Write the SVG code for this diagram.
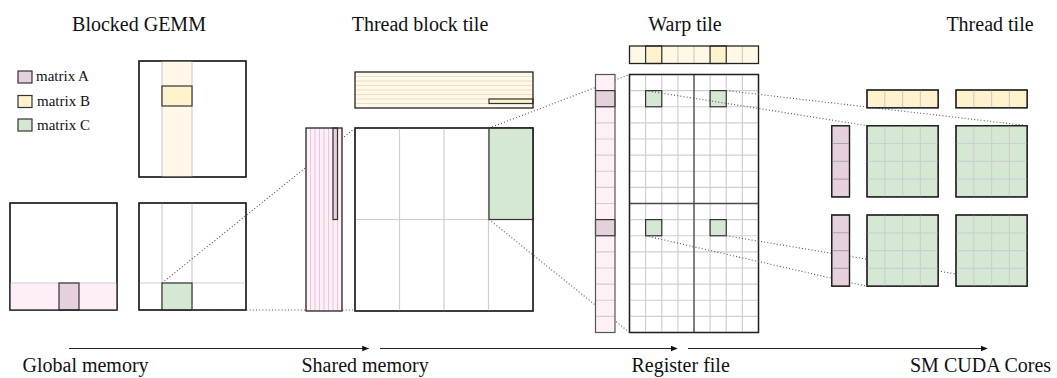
<svg xmlns="http://www.w3.org/2000/svg" width="1057" height="378" viewBox="0 0 1057 378">
  <style>
    .title { font-size: 20px; text-anchor: middle; }
    .label { font-size: 20px; }
    .legend { font-size: 15px; }
    .frame { fill: #fff; stroke: #222; stroke-width: 1.3; }
    .grid { fill: none; stroke: #cfcfcf; stroke-width: 1.2; }
    .gridmid { fill: none; stroke: #4a4a4a; stroke-width: 1.4; }
    .edge { fill: none; stroke: #222; stroke-width: 1.3; }
    .aBand { fill: #fdeef8; }
    .bBand { fill: #fff8e8; }
    .aTile { fill: #e6d0de; stroke: #333; stroke-width: 1.2; }
    .bTile { fill: #fff2cc; stroke: #333; stroke-width: 1.2; }
    .cTile { fill: #d5e8d4; stroke: #333; stroke-width: 1.2; }
    .dot { fill: none; stroke: #555; stroke-width: 1.1; stroke-dasharray: 1 2.2; }
    .flow { fill: none; stroke: #222; stroke-width: 1.1; marker-end: url(#head); }
  </style>
  <defs>
    <marker id="head" viewBox="0 0 10 10" refX="9" refY="5" markerWidth="7" markerHeight="7" markerUnits="userSpaceOnUse" orient="auto">
      <path d="M0,1 L10,5 L0,9 z" fill="#111"/>
    </marker>
  </defs>

  <rect width="1057" height="378" fill="#fff"/>

  <!-- column titles -->
  <g id="titles" font-family="Liberation Serif, DejaVu Serif, serif" fill="#111">
    <text class="title" x="139" y="31">Blocked GEMM</text>
    <text class="title" x="420" y="31">Thread block tile</text>
    <text class="title" x="685" y="31">Warp tile</text>
    <text class="title" x="990" y="31">Thread tile</text>
  </g>

  <!-- legend -->
  <g id="legend" font-family="Liberation Serif, DejaVu Serif, serif" fill="#111">
    <rect class="aTile" x="18" y="71" width="14" height="12"/>
    <text class="legend" x="36" y="81">matrix A</text>
    <rect class="bTile" x="18" y="95.5" width="14" height="12"/>
    <text class="legend" x="37" y="105.5">matrix B</text>
    <rect class="cTile" x="18" y="119" width="14" height="12"/>
    <text class="legend" x="37" y="130">matrix C</text>
  </g>

  <!-- blocked GEMM: global matrices -->
  <g id="gemm-b">
    <rect class="frame" x="139" y="61" width="107" height="116"/>
    <rect class="bBand" x="162" y="61" width="30" height="116"/>
    <path class="grid" d="M162,61 V177 M192,61 V177"/>
    <rect class="bTile" x="162" y="86" width="30" height="20"/>
    <rect class="edge" x="139" y="61" width="107" height="116"/>
  </g>
  <g id="gemm-a">
    <rect class="frame" x="10" y="203" width="107" height="107"/>
    <rect class="aBand" x="10" y="283" width="107" height="27"/>
    <path class="grid" d="M10,283 H117"/>
    <rect class="aTile" x="59" y="283" width="20" height="27"/>
    <rect class="edge" x="10" y="203" width="107" height="107"/>
  </g>
  <g id="gemm-c">
    <rect class="frame" x="139" y="203" width="107" height="107"/>
    <path class="grid" d="M162,203 V310 M192,203 V310 M139,283 H246"/>
    <rect class="cTile" x="162" y="283" width="30" height="27"/>
    <rect class="edge" x="139" y="203" width="107" height="107"/>
  </g>

  <!-- thread block tile: B slice and C tile -->
  <g id="block-b">
    <rect class="bBand" x="355" y="72" width="178" height="36"/>
    <path fill="none" stroke="#eadfc4" stroke-width="1" d="M355,76.5 H533 M355,81 H533 M355,85.5 H533 M355,90 H533 M355,94.5 H533 M355,99 H533 M355,103.5 H533"/>
    <rect class="bTile" x="489" y="99" width="44" height="4.5"/>
    <rect class="edge" x="355" y="72" width="178" height="36"/>
  </g>
  <g id="block-c">
    <rect class="frame" x="355" y="128" width="178" height="183"/>
    <path class="grid" d="M399.5,128 V311 M444,128 V311 M488.5,128 V311 M355,219.5 H533"/>
    <rect class="cTile" x="489" y="128" width="44" height="91.5"/>
    <rect class="edge" x="355" y="128" width="178" height="183"/>
  </g>

  <!-- warp tile: B fragments and C grid -->
  <g id="warp-b">
    <rect x="629.5" y="46" width="129" height="17.5" fill="#fff8e6"/>
    <path class="grid" d="M645.6,46 V63.5 M661.75,46 V63.5 M677.9,46 V63.5 M694,46 V63.5 M710.1,46 V63.5 M726.25,46 V63.5 M742.4,46 V63.5"/>
    <rect class="bTile" x="645.6" y="46" width="16.15" height="17.5"/>
    <rect class="bTile" x="710.1" y="46" width="16.15" height="17.5"/>
    <rect class="edge" x="629.5" y="46" width="129" height="17.5"/>
  </g>
  <g id="warp-c">
    <rect class="frame" x="629.5" y="74.5" width="129" height="258"/>
    <path class="grid" d="M645.6,74.5 V332.5 M661.75,74.5 V332.5 M677.9,74.5 V332.5 M710.1,74.5 V332.5 M726.25,74.5 V332.5 M742.4,74.5 V332.5
      M629.5,90.6 H758.5 M629.5,106.75 H758.5 M629.5,122.9 H758.5 M629.5,139 H758.5 M629.5,155.1 H758.5 M629.5,171.25 H758.5 M629.5,187.4 H758.5
      M629.5,219.6 H758.5 M629.5,235.75 H758.5 M629.5,251.9 H758.5 M629.5,268 H758.5 M629.5,284.1 H758.5 M629.5,300.25 H758.5 M629.5,316.4 H758.5"/>
    <path class="gridmid" d="M694,74.5 V332.5 M629.5,203.5 H758.5"/>
    <rect class="cTile" x="645.6" y="90.6" width="16.15" height="16.15"/>
    <rect class="cTile" x="710.1" y="90.6" width="16.15" height="16.15"/>
    <rect class="cTile" x="645.6" y="219.6" width="16.15" height="16.15"/>
    <rect class="cTile" x="710.1" y="219.6" width="16.15" height="16.15"/>
    <rect class="edge" x="629.5" y="74.5" width="129" height="258"/>
  </g>

  <!-- dotted projections between levels -->
  <g id="connectors">
    <path class="dot" d="M162,283 L355,128"/>
    <path class="dot" d="M192,310 L355,310"/>
    <path class="dot" d="M489,128 L629.5,74.5"/>
    <path class="dot" d="M489,219.5 L629.5,332.5"/>
    <path class="dot" d="M645.6,90.6 L867,125.7"/>
    <path class="dot" d="M726.25,90.6 L1027.7,125.7"/>
    <path class="dot" d="M645.6,235.75 L867,286.3"/>
    <path class="dot" d="M726.25,235.75 L956,274"/>
  </g>

  <!-- thread block tile: A slice -->
  <g id="block-a">
    <rect class="aBand" x="306" y="128" width="36" height="183"/>
    <path fill="none" stroke="#e6c8dc" stroke-width="1" d="M310.5,128 V311 M315,128 V311 M319.5,128 V311 M324,128 V311 M328.5,128 V311 M333,128 V311 M337.5,128 V311"/>
    <rect class="aTile" x="333" y="128" width="4.5" height="91.5"/>
    <rect class="edge" x="306" y="128" width="36" height="183"/>
  </g>

  <!-- warp tile: A fragments -->
  <g id="warp-a">
    <rect x="595.5" y="74.5" width="19.5" height="258" fill="#fff0f8"/>
    <path fill="none" stroke="#cfcfcf" stroke-width="1.2" d="M595.5,90.6 H615 M595.5,106.75 H615 M595.5,122.9 H615 M595.5,139 H615 M595.5,155.1 H615 M595.5,171.25 H615 M595.5,187.4 H615 M595.5,203.5 H615
      M595.5,219.6 H615 M595.5,235.75 H615 M595.5,251.9 H615 M595.5,268 H615 M595.5,284.1 H615 M595.5,300.25 H615 M595.5,316.4 H615"/>
    <rect class="aTile" x="595.5" y="90.6" width="19.5" height="16.15"/>
    <rect class="aTile" x="595.5" y="219.6" width="19.5" height="16.15"/>
    <rect fill="none" stroke="#555" stroke-width="1.2" x="595.5" y="74.5" width="19.5" height="258"/>
  </g>

  <!-- thread tiles -->
  <g id="thread-b-left">
    <rect class="bTile" x="867" y="90" width="71.2" height="17.8"/>
    <path class="grid" d="M884.8,90 V107.8 M902.6,90 V107.8 M920.4,90 V107.8"/>
    <rect class="edge" x="867" y="90" width="71.2" height="17.8"/>
  </g>
  <g id="thread-b-right">
    <rect class="bTile" x="956" y="90" width="71.2" height="17.8"/>
    <path class="grid" d="M973.8,90 V107.8 M991.6,90 V107.8 M1009.4,90 V107.8"/>
    <rect class="edge" x="956" y="90" width="71.2" height="17.8"/>
  </g>
  <g id="thread-a-top">
    <rect class="aTile" x="831.7" y="125.7" width="17.8" height="71.2"/>
    <path fill="none" stroke="#a8a8a8" stroke-width="1.1" d="M831.7,143.5 H849.5 M831.7,161.3 H849.5 M831.7,179.1 H849.5"/>
    <rect class="edge" x="831.7" y="125.7" width="17.8" height="71.2"/>
  </g>
  <g id="thread-a-bottom">
    <rect class="aTile" x="831.7" y="215" width="17.8" height="71.2"/>
    <path fill="none" stroke="#a8a8a8" stroke-width="1.1" d="M831.7,232.8 H849.5 M831.7,250.6 H849.5 M831.7,268.4 H849.5"/>
    <rect class="edge" x="831.7" y="215" width="17.8" height="71.2"/>
  </g>
  <g id="thread-c-top-left">
    <rect class="cTile" x="867" y="125.7" width="71.2" height="71.2"/>
    <path class="grid" d="M884.8,125.7 V196.9 M902.6,125.7 V196.9 M920.4,125.7 V196.9 M867,143.5 H938.2 M867,161.3 H938.2 M867,179.1 H938.2"/>
    <rect class="edge" x="867" y="125.7" width="71.2" height="71.2"/>
  </g>
  <g id="thread-c-top-right">
    <rect class="cTile" x="956" y="125.7" width="71.2" height="71.2"/>
    <path class="grid" d="M973.8,125.7 V196.9 M991.6,125.7 V196.9 M1009.4,125.7 V196.9 M956,143.5 H1027.2 M956,161.3 H1027.2 M956,179.1 H1027.2"/>
    <rect class="edge" x="956" y="125.7" width="71.2" height="71.2"/>
  </g>
  <g id="thread-c-bottom-left">
    <rect class="cTile" x="867" y="215" width="71.2" height="71.2"/>
    <path class="grid" d="M884.8,215 V286.2 M902.6,215 V286.2 M920.4,215 V286.2 M867,232.8 H938.2 M867,250.6 H938.2 M867,268.4 H938.2"/>
    <rect class="edge" x="867" y="215" width="71.2" height="71.2"/>
  </g>
  <g id="thread-c-bottom-right">
    <rect class="cTile" x="956" y="215" width="71.2" height="71.2"/>
    <path class="grid" d="M973.8,215 V286.2 M991.6,215 V286.2 M1009.4,215 V286.2 M956,232.8 H1027.2 M956,250.6 H1027.2 M956,268.4 H1027.2"/>
    <rect class="edge" x="956" y="215" width="71.2" height="71.2"/>
  </g>

  <!-- memory hierarchy axis -->
  <g id="axis" font-family="Liberation Serif, DejaVu Serif, serif" fill="#111">
    <path class="flow" d="M69,348.5 H368.5"/>
    <path class="flow" d="M380,348.5 H677"/>
    <path class="flow" d="M688,348.5 H987"/>
    <text class="label" x="22.5" y="372">Global memory</text>
    <text class="label" x="301.5" y="372">Shared memory</text>
    <text class="label" x="631.5" y="372">Register file</text>
    <text class="label" x="910" y="372">SM CUDA Cores</text>
  </g>
</svg>
